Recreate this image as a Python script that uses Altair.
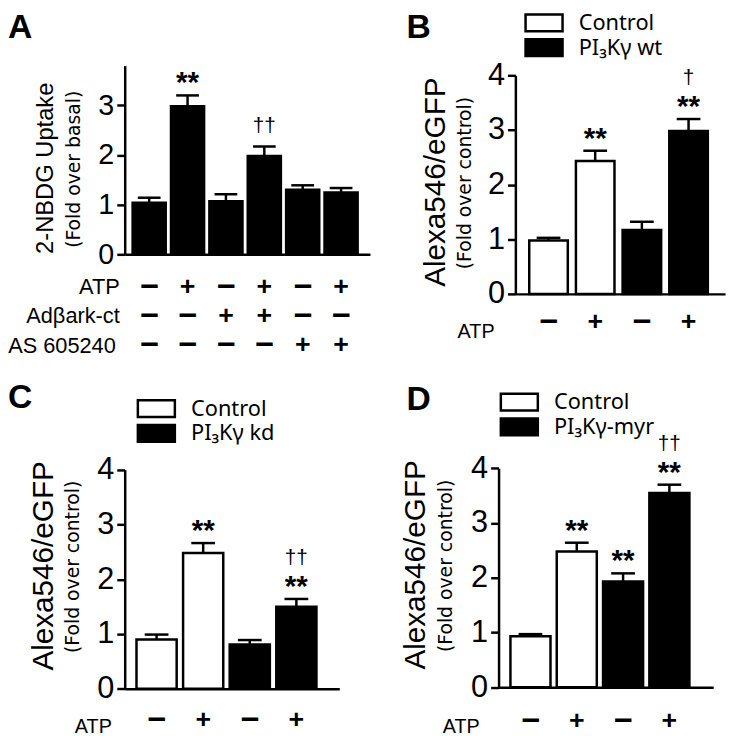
import altair as alt
import pandas as pd

# ---------------- data ----------------
A_CATS = ["a1", "a2", "a3", "a4", "a5", "a6"]
A_VALUES = [1.04, 2.98, 1.07, 1.98, 1.30, 1.245]
A_SEM = [0.10, 0.22, 0.14, 0.19, 0.09, 0.09]
A_STARS = ["", "**", "", "", "", ""]
A_DAGGERS = ["", "", "", "††", "", ""]
A_ROW_LABELS = ["ATP", "Adβark-ct", "AS 605240"]
A_ATP = ["−", "+", "−", "+", "−", "+"]
A_ARK = ["−", "−", "+", "+", "−", "−"]
A_AS = ["−", "−", "−", "−", "+", "+"]

CATS4 = ["ctl_noatp", "ctl_atp", "pik_noatp", "pik_atp"]
ATP4 = ["−", "+", "−", "+"]

B_GROUPS = ["Control", "Control", "PI₃Kγ wt", "PI₃Kγ wt"]
B_VALUES = [0.976, 2.43, 1.17, 2.98]
B_SEM = [0.05, 0.19, 0.15, 0.22]
B_STARS = ["", "**", "", "**"]
B_DAGGERS = ["", "", "", "†"]

C_GROUPS = ["Control", "Control", "PI₃Kγ kd", "PI₃Kγ kd"]
C_VALUES = [0.90, 2.48, 0.81, 1.50]
C_SEM = [0.09, 0.18, 0.08, 0.14]
C_STARS = ["", "**", "", "**"]
C_DAGGERS = ["", "", "", "††"]

D_GROUPS = ["Control", "Control", "PI₃Kγ-myr", "PI₃Kγ-myr"]
D_VALUES = [0.93, 2.48, 1.93, 3.55]
D_SEM = [0.04, 0.16, 0.15, 0.15]
D_STARS = ["", "**", "**", "**"]
D_DAGGERS = ["", "", "", "††"]

# ---------------- layout ----------------
W, H = 730, 733
FONT = "Liberation Sans"
ONE = alt.InlineData(values=[{"k": 0}])
LW = 2.5
BOX = "M-2.2,-1H2.2V1H-2.2Z"


def fixed_text(txt, x, y, size, angle=0, align="left", weight="normal", font=FONT):
    return alt.Chart(ONE).mark_text(
        fontSize=size, angle=angle, align=align, baseline="alphabetic",
        fontWeight=weight, font=font, color="black"
    ).encode(x=alt.value(x), y=alt.value(y), text=alt.value(txt))


def panel(cats, values, sem, stars, daggers, groups, legend_pos, xr, pi, po, al,
          yr, ydom, yticks, axis_x, label_size, cap, sign_rows, texts):
    df = pd.DataFrame({"cat": cats, "value": values, "sem": sem,
                       "stars": stars, "dagger": daggers,
                       "group": groups if groups else ["all"] * len(cats)})
    base = alt.Chart(df).transform_calculate(upper="datum.value + datum.sem")
    xenc = alt.X("cat:N", sort=cats,
                 scale=alt.Scale(range=xr, paddingInner=pi, paddingOuter=po, align=al),
                 axis=alt.Axis(orient="bottom", offset=yr[0] - H, labels=False, ticks=False,
                               title=None, domainWidth=LW, domainColor="black", grid=False))
    yscale = alt.Scale(domain=ydom, range=yr, nice=False, zero=True)
    yaxis = alt.Axis(orient="left", offset=-axis_x, values=yticks, title=None, grid=False,
                     tickSize=8, tickWidth=LW, tickColor="black", domainWidth=LW,
                     domainColor="black", labelFont=FONT, labelFontSize=label_size,
                     labelPadding=3, labelColor="black", format="d")
    if groups:
        dom = [groups[0], groups[2]]
        fill = alt.Fill("group:N", scale=alt.Scale(domain=dom, range=["white", "black"]),
                        legend=alt.Legend(orient="none", legendX=legend_pos[0],
                                          legendY=legend_pos[1], title=None,
                                          symbolType=BOX, symbolSize=289,
                                          symbolStrokeColor="black", symbolStrokeWidth=LW,
                                          labelFont="Noto Sans", labelFontSize=22,
                                          labelColor="black", labelOffset=24,
                                          rowPadding=-3.5, padding=0, symbolOpacity=1))
    else:
        fill = alt.value("black")
    bars = base.mark_bar(stroke="black", strokeWidth=LW).encode(
        x=xenc, y=alt.Y("value:Q", scale=yscale, axis=yaxis), fill=fill)
    rule = base.mark_rule(strokeWidth=LW, color="black").encode(
        x=xenc, y=alt.Y("value:Q", scale=yscale, axis=yaxis), y2="upper:Q")
    tick = base.mark_tick(size=cap, thickness=LW, color="black", opacity=1).encode(
        x=xenc, y=alt.Y("upper:Q", scale=yscale, axis=yaxis))
    st = base.transform_filter("datum.stars != ''").mark_text(
        fontSize=30, fontWeight="bold", font=FONT, baseline="alphabetic", dy=-3, color="black"
    ).encode(x=xenc, y=alt.Y("upper:Q", scale=yscale, axis=yaxis), text="stars:N")
    d0 = base.transform_filter("datum.dagger != '' && datum.stars == ''").mark_text(
        fontSize=21, font=FONT, baseline="alphabetic", dy=-15, color="black"
    ).encode(x=xenc, y=alt.Y("upper:Q", scale=yscale, axis=yaxis), text="dagger:N")
    d1 = base.transform_filter("datum.dagger != '' && datum.stars != ''").mark_text(
        fontSize=21, font=FONT, baseline="alphabetic", dy=-35, color="black"
    ).encode(x=xenc, y=alt.Y("upper:Q", scale=yscale, axis=yaxis), text="dagger:N")
    layers = [bars, rule, tick, st, d0, d1]
    for signs, ry in sign_rows:
        sdf = pd.DataFrame({"cat": cats, "s": signs})
        layers.append(alt.Chart(sdf).mark_text(
            font=FONT, fontWeight="bold", baseline="middle", color="black"
        ).encode(x=xenc, y=alt.value(ry), text="s:N",
                 size=alt.condition("datum.s == '+'", alt.value(27), alt.value(33))))
    for t in texts:
        layers.append(fixed_text(*t[:4], **(t[4] if len(t) > 4 else {})))
    return alt.layer(*layers)


rot = {"angle": 270, "align": "center"}
rot_small = {"angle": 270, "align": "center", "font": "DejaVu Sans"}

pA = panel(A_CATS, A_VALUES, A_SEM, A_STARS, A_DAGGERS, None, None,
           [118, 366], 0.137, 0.264, 0.39, [245, 54.2], [0, 3.8], [0, 1, 2, 3], 118, 29, 23,
           [(A_ATP, 278), (A_ARK, 307), (A_AS, 337)],
           [("A", 0, 26, 34, {"weight": "bold"}),
            ("2-NBDG Uptake", 45, 158, 24, rot),
            ("(Fold over basal)", 73, 159, 19, rot_small),
            (A_ROW_LABELS[0], 113, 285, 22, {"align": "right"}),
            (A_ROW_LABELS[1], 113, 314, 22, {"align": "right"}),
            (A_ROW_LABELS[2], 109, 345, 22, {"align": "right"})])

pB = panel(CATS4, B_VALUES, B_SEM, B_STARS, B_DAGGERS, B_GROUPS, (531, 0),
           [513, 725], 0.174, 0.333, 0.446, [285, 64], [0, 4], [0, 1, 2, 3, 4], 513, 31, 24,
           [(ATP4, 314)],
           [("B", 403, 26, 34, {"weight": "bold"}),
            ("Alexa546/eGFP", 442, 172, 30, rot),
            ("(Fold over control)", 468, 173, 19, rot_small),
            ("ATP", 492, 330, 20, {"align": "right"})])

pC = panel(CATS4, C_VALUES, C_SEM, C_STARS, C_DAGGERS, C_GROUPS, (139, 390),
           [118, 335], 0.138, 0.372, 0.34, [684.3, 462.7], [0, 4], [0, 1, 2, 3, 4], 118, 31, 24,
           [(ATP4, 716)],
           [("C", 0, 400, 34, {"weight": "bold"}),
            ("Alexa546/eGFP", 46, 560, 30, rot),
            ("(Fold over control)", 72, 561, 19, rot_small),
            ("ATP", 105, 729, 20, {"align": "right"})])

pD = panel(CATS4, D_VALUES, D_SEM, D_STARS, D_DAGGERS, D_GROUPS, (506, 383.5),
           [496, 713], 0.135, 0.385, 0.333, [682.7, 461.3], [0, 4], [0, 1, 2, 3, 4], 496, 31, 24,
           [(ATP4, 717)],
           [("D", 403, 402, 34, {"weight": "bold"}),
            ("Alexa546/eGFP", 422, 559, 30, rot),
            ("(Fold over control)", 449, 560, 19, rot_small),
            ("ATP", 477, 729, 20, {"align": "right"})])

chart = alt.layer(pA, pB, pC, pD).resolve_scale(
    x="independent", y="independent", fill="independent"
).resolve_axis(x="independent", y="independent").resolve_legend(fill="independent").properties(
    width=W, height=H, padding=0, autosize="none", background="white"
).configure_view(stroke=None)

chart.save("out.html", embed_options={"renderer": "svg", "actions": False})
